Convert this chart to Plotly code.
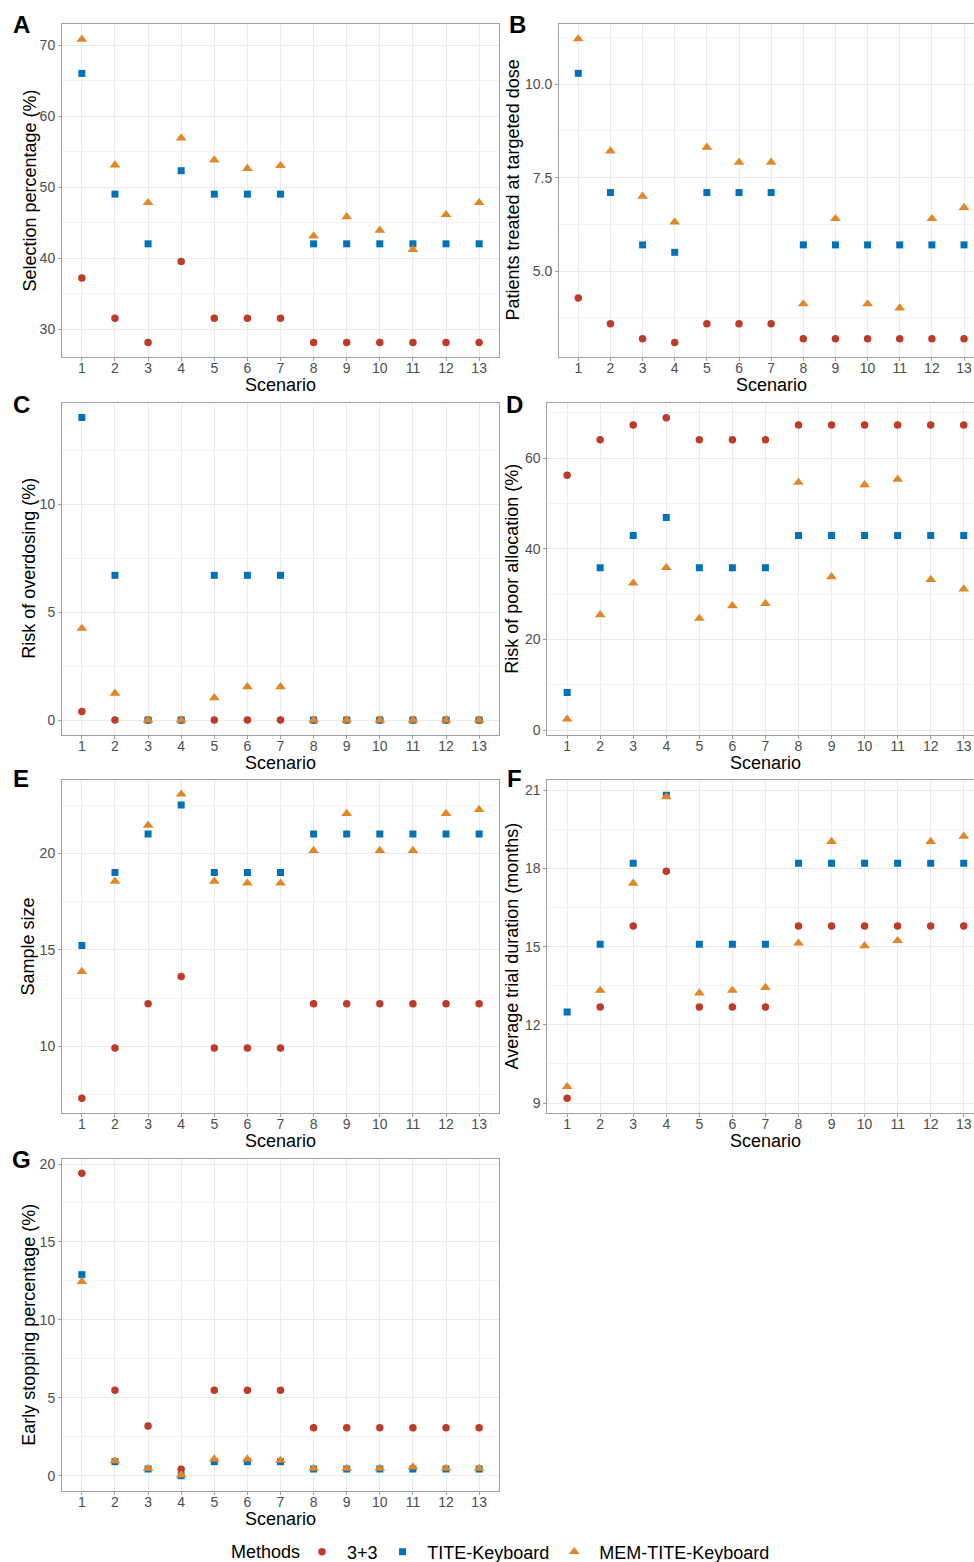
import plotly.graph_objects as go

scenarios = list(range(1, 14))
tick_labels = [str(s) for s in scenarios]
methods = ["3+3", "TITE-Keyboard", "MEM-TITE-Keyboard"]

# A: Selection percentage (%)
sel_33 = [37.2, 31.5, 28.1, 39.5, 31.5, 31.5, 31.5, 28.1, 28.1, 28.1, 28.1, 28.1, 28.1]
sel_tite = [66.0, 49.0, 42.0, 52.3, 49.0, 49.0, 49.0, 42.0, 42.0, 42.0, 42.0, 42.0, 42.0]
sel_mem = [70.8, 53.1, 47.8, 56.9, 53.8, 52.6, 53.0, 43.1, 45.8, 43.9, 41.2, 46.1, 47.8]

# B: Patients treated at targeted dose
pat_33 = [4.28, 3.59, 3.19, 3.09, 3.59, 3.59, 3.59, 3.19, 3.19, 3.19, 3.19, 3.19, 3.19]
pat_tite = [10.29, 7.1, 5.7, 5.5, 7.1, 7.1, 7.1, 5.7, 5.7, 5.7, 5.7, 5.7, 5.7]
pat_mem = [11.21, 8.21, 7.0, 6.31, 8.31, 7.91, 7.91, 4.12, 6.40, 4.12, 4.01, 6.40, 6.70]

# C: Risk of overdosing (%)
od_33 = [0.4, 0, 0, 0, 0, 0, 0, 0, 0, 0, 0, 0, 0]
od_tite = [14.0, 6.7, 0, 0, 6.7, 6.7, 6.7, 0, 0, 0, 0, 0, 0]
od_mem = [4.24, 1.24, 0, 0, 1.03, 1.54, 1.54, 0, 0, 0, 0, 0, 0]

# D: Risk of poor allocation (%)
pa_33 = [56.2, 64.0, 67.3, 68.9, 64.0, 64.0, 64.0, 67.3, 67.3, 67.3, 67.3, 67.3, 67.3]
pa_tite = [8.3, 35.8, 42.9, 46.9, 35.8, 35.8, 35.8, 42.9, 42.9, 42.9, 42.9, 42.9, 42.9]
pa_mem = [2.4, 25.4, 32.4, 35.8, 24.6, 27.4, 27.9, 54.6, 33.8, 54.1, 55.3, 33.2, 31.1]

# E: Sample size
ss_33 = [7.31, 9.91, 12.21, 13.61, 9.91, 9.91, 9.91, 12.21, 12.21, 12.21, 12.21, 12.21, 12.21]
ss_tite = [15.22, 19.0, 21.0, 22.5, 19.0, 19.0, 19.0, 21.0, 21.0, 21.0, 21.0, 21.0, 21.0]
ss_mem = [13.87, 18.55, 21.45, 23.06, 18.55, 18.45, 18.45, 20.14, 22.06, 20.14, 20.14, 22.06, 22.26]

# F: Average trial duration (months)
dur_33 = [9.18, 12.68, 15.79, 17.89, 12.68, 12.68, 12.68, 15.79, 15.79, 15.79, 15.79, 15.79, 15.79]
dur_tite = [12.49, 15.09, 18.2, 20.81, 15.09, 15.09, 15.09, 18.2, 18.2, 18.2, 18.2, 18.2, 18.2]
dur_mem = [9.63, 13.32, 17.43, 20.74, 13.22, 13.32, 13.43, 15.13, 19.03, 15.03, 15.23, 19.03, 19.23]

# G: Early stopping percentage (%)
es_33 = [19.4, 5.48, 3.19, 0.41, 5.48, 5.48, 5.48, 3.08, 3.08, 3.08, 3.08, 3.08, 3.08]
es_tite = [12.9, 0.9, 0.43, 0.0, 0.9, 0.9, 0.9, 0.43, 0.43, 0.43, 0.43, 0.43, 0.43]
es_mem = [12.45, 0.95, 0.47, 0.04, 1.07, 1.07, 0.98, 0.47, 0.47, 0.47, 0.56, 0.47, 0.47]

colors = ["#BC3C29", "#0072B5", "#E18727"]
symbols = ["circle", "square", "triangle-up"]
msizes = [7.5, 7, 9.5]

W, H = 974, 1562
FONT = "Liberation Sans, Arial, Helvetica, sans-serif"

def px_x(a, b):
    return [a / W, b / W]

def px_y(top, bottom):
    return [1 - bottom / H, 1 - top / H]

panels = [
    # label, y title, data, xdom(px), ydom(px), yrange, dtick, xrange, left column?, label pos, tickformat,
    # x-title centre x, y-title centre x
    ("A", "Selection percentage (%)", (sel_33, sel_tite, sel_mem), (62, 499), (24, 357),
     [26.06, 72.96], 10, [0.4, 13.6], True, (21, 24), "", 280.5, 29),
    ("B", "Patients treated at targeted dose", (pat_33, pat_tite, pat_mem), (559, 974), (24, 357),
     [2.70, 11.61], 2.5, [0.4, 13.31], False, (517, 24), ".1f", 771, 512),
    ("C", "Risk of overdosing (%)", (od_33, od_tite, od_mem), (62, 499), (402.7, 735),
     [-0.69, 14.69], 5, [0.4, 13.6], True, (21, 404), "", 280.5, 29),
    ("D", "Risk of poor allocation (%)", (pa_33, pa_tite, pa_mem), (547.3, 974), (402.7, 735),
     [-1.1, 72.2], 20, [0.4, 13.31], False, (514, 404), "", 765, 512),
    ("E", "Sample size", (ss_33, ss_tite, ss_mem), (62, 499), (780.3, 1112.7),
     [6.56, 23.78], 5, [0.4, 13.6], True, (21, 778), "", 280.5, 28),
    ("F", "Average trial duration (months)", (dur_33, dur_tite, dur_mem), (547.3, 974), (780.3, 1112.7),
     [8.63, 21.38], 3, [0.4, 13.31], False, (514, 778), "", 765, 512),
    ("G", "Early stopping percentage (%)", (es_33, es_tite, es_mem), (62, 499), (1158.7, 1491),
     [-0.98, 20.34], 5, [0.4, 13.6], True, (21, 1159), "", 280.5, 29),
]

fig = go.Figure()
layout = {}
annotations = []
border = "#A0A0A0"
for i, (lab, ytitle, data, xd, yd, yr, dt, xr, leftcol, lpos, tfmt, xtc, ytc) in enumerate(panels):
    n = i + 1
    xa = "x" if n == 1 else f"x{n}"
    ya = "y" if n == 1 else f"y{n}"
    for k in range(3):
        fig.add_trace(go.Scatter(
            x=scenarios, y=data[k], mode="markers", name=" " + methods[k],
            legendgroup=methods[k], showlegend=(n == 1),
            marker=dict(color=colors[k], symbol=symbols[k], size=msizes[k], line=dict(width=0)),
            xaxis=xa, yaxis=ya, hoverinfo="skip",
        ))
    layout["xaxis" if n == 1 else f"xaxis{n}"] = dict(
        domain=px_x(*xd), range=xr, tickmode="array", tickvals=scenarios, ticktext=tick_labels,
        showgrid=True, gridcolor="#EBEBEB", gridwidth=1, zeroline=False,
        showline=True, linecolor=border, linewidth=1, mirror=True,
        ticks="outside", ticklen=3, tickcolor=border, ticklabelstandoff=-5,
        tickfont=dict(size=14, color="#4D4D4D", family=FONT),
        anchor=ya, fixedrange=True,
    )
    layout["yaxis" if n == 1 else f"yaxis{n}"] = dict(
        domain=px_y(*yd), range=yr, tick0=0, dtick=dt, tickformat=tfmt,
        showgrid=True, gridcolor="#EBEBEB", gridwidth=1, zeroline=False,
        minor=dict(dtick=dt / 2, tick0=0, showgrid=True, gridcolor="#F4F4F4", gridwidth=1, ticks=""),
        showline=True, linecolor=border, linewidth=1, mirror=leftcol,
        ticks="outside", ticklen=3, tickcolor=border,
        tickfont=dict(size=14, color="#4D4D4D", family=FONT),
        anchor=xa, fixedrange=True,
    )
    # panel label
    annotations.append(dict(
        text=f"<b>{lab}</b>", x=lpos[0] / W, y=1 - lpos[1] / H, xref="paper", yref="paper",
        xanchor="center", yanchor="middle", showarrow=False,
        font=dict(size=24, color="#000000", family=FONT),
    ))
    # x-axis title
    annotations.append(dict(
        text="Scenario", x=xtc / W, y=1 - (yd[1] + 28) / H, xref="paper", yref="paper",
        xanchor="center", yanchor="middle", showarrow=False,
        font=dict(size=18, color="#000000", family=FONT),
    ))
    # y-axis title
    annotations.append(dict(
        text=ytitle, x=ytc / W, y=1 - (yd[0] + yd[1]) / 2 / H, xref="paper", yref="paper",
        xanchor="center", yanchor="middle", showarrow=False, textangle=-90,
        font=dict(size=18, color="#000000", family=FONT),
    ))

# legend title
annotations.append(dict(
    text="Methods", x=265.5 / W, y=1 - 1552 / H, xref="paper", yref="paper",
    xanchor="center", yanchor="middle", showarrow=False,
    font=dict(size=18, color="#000000", family=FONT),
))

fig.update_layout(**layout)
fig.update_layout(
    width=W, height=H, margin=dict(l=0, r=0, t=0, b=0, autoexpand=False),
    paper_bgcolor="white", plot_bgcolor="white",
    font=dict(family=FONT, color="#000000"),
    annotations=annotations,
    showlegend=True,
    legend=dict(
        orientation="h", x=302 / W, xanchor="left", y=1 - 1552 / H, yanchor="middle",
        font=dict(size=18, family=FONT), bgcolor="rgba(0,0,0,0)",
    ),
)

fig.write_html("out.html")
